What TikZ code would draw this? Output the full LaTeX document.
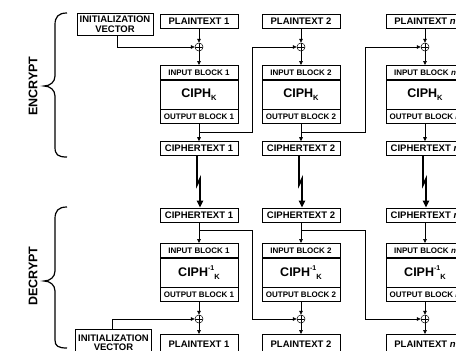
\documentclass[tikz,border=0pt]{standalone}
\usepackage{fontspec}
\setmainfont{Liberation Sans}
\usetikzlibrary{arrows.meta}
\newcommand{\lblfont}{\fontsize{9.5}{11}\selectfont\bfseries}
\newcommand{\rowfont}{\fontsize{8}{9}\selectfont\bfseries}
\newcommand{\ciphfont}{\fontsize{12.5}{14}\selectfont\bfseries}
\newcommand{\sidefont}{\fontsize{12.5}{14}\selectfont\bfseries}
\newcommand{\subK}{\raisebox{-0.45ex}{\fontsize{7.5}{8}\selectfont K}}
\newcommand{\supinv}{\raisebox{0.9ex}{\fontsize{7}{8}\selectfont -1}}
\begin{document}
\begin{tikzpicture}[x=1pt,y=-1pt,
  lbl/.style={draw,line width=0.6pt,minimum width=78pt,minimum height=14pt,inner sep=0pt,font=\lblfont},
  rowbox/.style={draw,line width=0.6pt,minimum width=78pt,minimum height=14pt,inner sep=0pt,font=\rowfont,anchor=north},
  ciphbox/.style={draw,line width=0.6pt,minimum width=78pt,minimum height=29pt,inner sep=0pt,font=\ciphfont,anchor=north},
  ivbox/.style={draw,line width=0.6pt,minimum width=76pt,inner sep=0pt,font=\lblfont,align=center},
  xor/.style={circle,draw,line width=0.5pt,minimum size=8pt,inner sep=0pt,
    path picture={\draw[line width=0.5pt] (path picture bounding box.north) -- (path picture bounding box.south)
      (path picture bounding box.west) -- (path picture bounding box.east);}},
  arr/.style={line width=0.6pt,-{Triangle[length=4pt,width=3.6pt]}},
  bolt/.style={line width=1.8pt,-{Triangle[length=7pt,width=6pt]}},
  brace/.style={line width=1.2pt},
  side/.style={font=\sidefont,rotate=90}]
\useasboundingbox (0,0) rectangle (456,351);
\clip (0,0) rectangle (456,351);
% side labels and braces
\node[side] (enc) at (33,86) {ENCRYPT};
\node[side] (dec) at (33,276) {DECRYPT};
\draw[brace] (67,13) .. controls (58,13) and (55,17) .. (55,25) -- (55,76)
  .. controls (55,82) and (50,86) .. (44,86) .. controls (50,86) and (55,90) .. (55,96)
  -- (55,147) .. controls (55,155) and (58,157) .. (67,157);
\draw[brace] (67,207) .. controls (58,207) and (55,211) .. (55,219) -- (55,271)
  .. controls (55,277) and (50,281) .. (44,281) .. controls (50,281) and (55,285) .. (55,291)
  -- (55,340) .. controls (55,346) and (58,348) .. (67,348);
% initialization vectors
\node[ivbox,minimum height=22pt] (ive) at (115,24) {INITIALIZATION\\[-1.5pt]VECTOR};
\node[ivbox,minimum height=27pt,anchor=north] (ivd) at (113.5,329) {INITIALIZATION\\[-1.5pt]VECTOR};
% columns
\foreach \i/\c/\lab in {1/199/1,2/301/2,3/425/{\itshape n}}{
  % encrypt
  \node[lbl] (pt\i) at (\c,21) {PLAINTEXT \lab};
  \node[xor] (x\i) at (\c,47) {};
  \node[rowbox] (ib\i) at (\c,65) {INPUT BLOCK \lab};
  \node[ciphbox] (cb\i) at (ib\i.south) {CIPH\subK};
  \node[rowbox] (ob\i) at (cb\i.south) {OUTPUT BLOCK \lab};
  \node[lbl] (ct\i) at (\c,148.5) {CIPHERTEXT \lab};
  \coordinate (je\i) at (\c,132);
  \draw[arr] (pt\i) -- (x\i);
  \draw[arr] (x\i) -- (ib\i);
  \draw[arr] (ob\i) -- (ct\i);
  % decrypt
  \node[lbl] (cd\i) at (\c,215) {CIPHERTEXT \lab};
  \node[rowbox] (ibd\i) at (\c,243) {INPUT BLOCK \lab};
  \node[ciphbox] (cbd\i) at (ibd\i.south) {CIPH\supinv\subK};
  \node[rowbox] (obd\i) at (cbd\i.south) {OUTPUT BLOCK \lab};
  \node[xor] (xd\i) at (\c,319) {};
  \node[lbl,anchor=north,minimum height=20pt] (pd\i) at (\c,334) {PLAINTEXT \lab};
  \coordinate (jd\i) at (\c,230);
  \draw[arr] (cd\i) -- (ibd\i);
  \draw[arr] (obd\i) -- (xd\i);
  \draw[arr] (xd\i) -- (pd\i);
  % transmission
  \draw[bolt] ([xshift=-2pt]ct\i.south) -- ++(0,29) -- ++(3,-6) -- ([xshift=1pt]cd\i.north);
}
% chaining connectors
\coordinate (te1) at (252,132);
\coordinate (te2) at (365,132);
\coordinate (td1) at (252,230);
\coordinate (td2) at (365,230);
\draw[arr] ([xshift=2pt]ive.south) |- (x1);
\draw[arr] (je1) -- (te1) |- (x2);
\draw[arr] (je2) -- (te2) |- (x3);
\draw[arr] ([xshift=-1.5pt]ivd.north) |- (xd1);
\draw[arr] (jd1) -- (td1) |- (xd2);
\draw[arr] (jd2) -- (td2) |- (xd3);
\end{tikzpicture}
\end{document}
